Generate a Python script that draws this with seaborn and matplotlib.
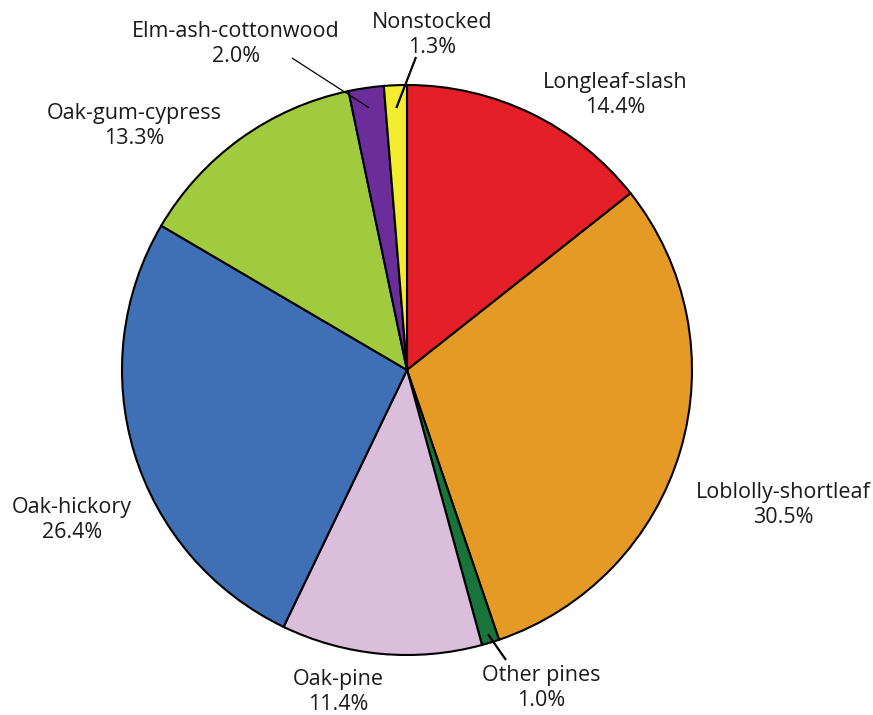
import numpy as np
import matplotlib
matplotlib.use("Agg")
import matplotlib.pyplot as plt
import seaborn as sns

sns.set_theme(style="white")
plt.rcParams["font.family"] = ["Open Sans", "DejaVu Sans"]

# Forest-type groups, clockwise from 12 o'clock
categories = ["Longleaf-slash", "Loblolly-shortleaf", "Other pines", "Oak-pine",
              "Oak-hickory", "Oak-gum-cypress", "Elm-ash-cottonwood", "Nonstocked"]
shares = [14.4, 30.5, 1.0, 11.4, 26.4, 13.3, 2.0, 1.3]
colors = ["#E41F28", "#E59A26", "#18743A", "#DBBDDC",
          "#3F6FB5", "#A0CB3E", "#6A2D9A", "#F4EC2E"]

W, H = 873, 715
fig = plt.figure(figsize=(W / 100, H / 100), dpi=100)
ax = fig.add_axes([0, 0, 1, 1])

cx, cy, R = 407, H - 370, 285
wedges, _ = ax.pie(shares, colors=colors, startangle=90, counterclock=False,
                   center=(cx, cy), radius=R, frame=True,
                   wedgeprops=dict(edgecolor="black", linewidth=1.5))
ax.set_xlim(0, W)
ax.set_ylim(0, H)
ax.set_aspect("equal")
ax.axis("off")

# label anchor (centre of text block, in pixel coords from the top-left)
label_pos = {
    "Longleaf-slash": (615, 95),
    "Loblolly-shortleaf": (783, 505),
    "Other pines": (541, 688),
    "Oak-pine": (338, 692),
    "Oak-hickory": (72, 520),
    "Oak-gum-cypress": (134, 126),
    "Elm-ash-cottonwood": (236, 44),
    "Nonstocked": (432, 35),
}
# leader lines for the thin slices: (text-side end, fraction of radius, width)
leaders = {
    "Elm-ash-cottonwood": ((292, 58), 0.93, 0.9),
    "Nonstocked": ((416, 57), 0.92, 1.6),
    "Other pines": ((506, 660), 0.97, 1.6),
}

for w, name, val in zip(wedges, categories, shares):
    x, y = label_pos[name]
    ax.text(x, H - y, f"{name}\n{val:.1f}%", ha="center", va="center",
            fontsize=15.5, color="#1a1a1a", linespacing=1.2)
    if name in leaders:
        (lx, ly), frac, lw = leaders[name]
        mid = np.deg2rad((w.theta1 + w.theta2) / 2)
        px = cx + frac * R * np.cos(mid)
        py = cy + frac * R * np.sin(mid)
        ax.plot([lx, px], [H - ly, py], color="black", lw=lw,
                solid_capstyle="butt", zorder=5)

fig.savefig("out.png", dpi=100)
